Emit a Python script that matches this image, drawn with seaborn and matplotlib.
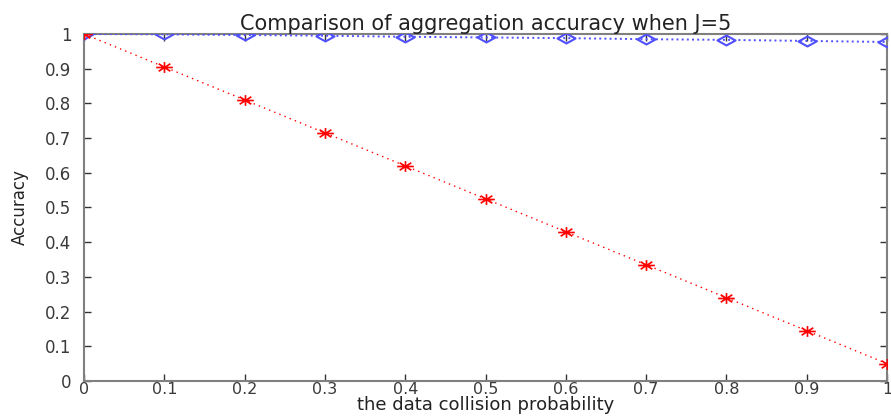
import matplotlib
matplotlib.use("Agg")
import matplotlib.pyplot as plt
from matplotlib.path import Path
import seaborn as sns
import pandas as pd

prob = [0.0, 0.1, 0.2, 0.3, 0.4, 0.5, 0.6, 0.7, 0.8, 0.9, 1.0]
acc_red = [1.0, 0.905, 0.81, 0.715, 0.62, 0.525, 0.43, 0.335, 0.24, 0.145, 0.05]
acc_blue = [1.0, 0.999, 0.997, 0.995, 0.992, 0.990, 0.988, 0.985, 0.983, 0.980, 0.977]
xticks = [0, 0.1, 0.2, 0.3, 0.4, 0.5, 0.6, 0.7, 0.8, 0.9, 1]
yticks = [0, 0.1, 0.2, 0.3, 0.4, 0.5, 0.6, 0.7, 0.8, 0.9, 1]
xtick_labels = ["0", "0.1", "0.2", "0.3", "0.4", "0.5", "0.6", "0.7", "0.8", "0.9", "1"]
ytick_labels = ["0", "0.1", "0.2", "0.3", "0.4", "0.5", "0.6", "0.7", "0.8", "0.9", "1"]

sns.set_style("white")
plt.rcParams['font.family'] = ['DejaVu Sans']

# wide diamond and wide 8-arm asterisk (the reference is horizontally stretched)
diamond = Path([(-1, 0), (0, 0.55), (1, 0), (0, -0.55), (-1, 0)],
               [Path.MOVETO, Path.LINETO, Path.LINETO, Path.LINETO, Path.CLOSEPOLY])
ast_verts = [(-1, 0), (1, 0), (0, -0.65), (0, 0.65),
             (-0.7, -0.45), (0.7, 0.45), (-0.7, 0.45), (0.7, -0.45)]
ast_codes = [Path.MOVETO, Path.LINETO] * 4
asterisk = Path(ast_verts, ast_codes)

fig = plt.figure(figsize=(8.91, 4.19), dpi=100)
ax = fig.add_axes([0.0943, 0.0907, 0.9012, 0.8282])

df_blue = pd.DataFrame({"x": prob, "y": acc_blue})
df_red = pd.DataFrame({"x": prob, "y": acc_red})

blue = "#5050ff"
sns.lineplot(data=df_blue, x="x", y="y", ax=ax, color=blue, linestyle=":",
             linewidth=1.4, marker=diamond, markersize=13, markerfacecolor="none",
             markeredgecolor=blue, markeredgewidth=1.5, zorder=3)
sns.lineplot(data=df_red, x="x", y="y", ax=ax, color="red", linestyle=(0, (1, 3)),
             linewidth=1.0, marker=asterisk, markersize=12, markerfacecolor="none",
             markeredgecolor="red", markeredgewidth=1.2, zorder=4)

ax.set_xlim(0, 1)
ax.set_ylim(0, 1)
ax.set_xticks(xticks)
ax.set_xticklabels(xtick_labels)
ax.set_yticks(yticks)
ax.set_yticklabels(ytick_labels)

spine_col = "#808080"
for s in ax.spines.values():
    s.set_visible(True)
    s.set_color(spine_col)
    s.set_linewidth(1.5)

ax.tick_params(axis="both", which="both", direction="in", length=5, width=1,
               color="#333333", labelsize=12, labelcolor="#3a3a3a",
               top=True, right=True, bottom=True, left=True)
ax.tick_params(axis="x", pad=1, labelsize=11.5)
ax.tick_params(axis="y", pad=9)

ax.set_title("Comparison of aggregation accuracy when J=5", fontsize=15,
             color="#222222", pad=2)
ax.set_xlabel("the data collision probability", fontsize=13, color="#222222",
              labelpad=-1)
ax.set_ylabel("Accuracy", fontsize=12, color="#222222", labelpad=12)

fig.savefig("out.png", dpi=100)
